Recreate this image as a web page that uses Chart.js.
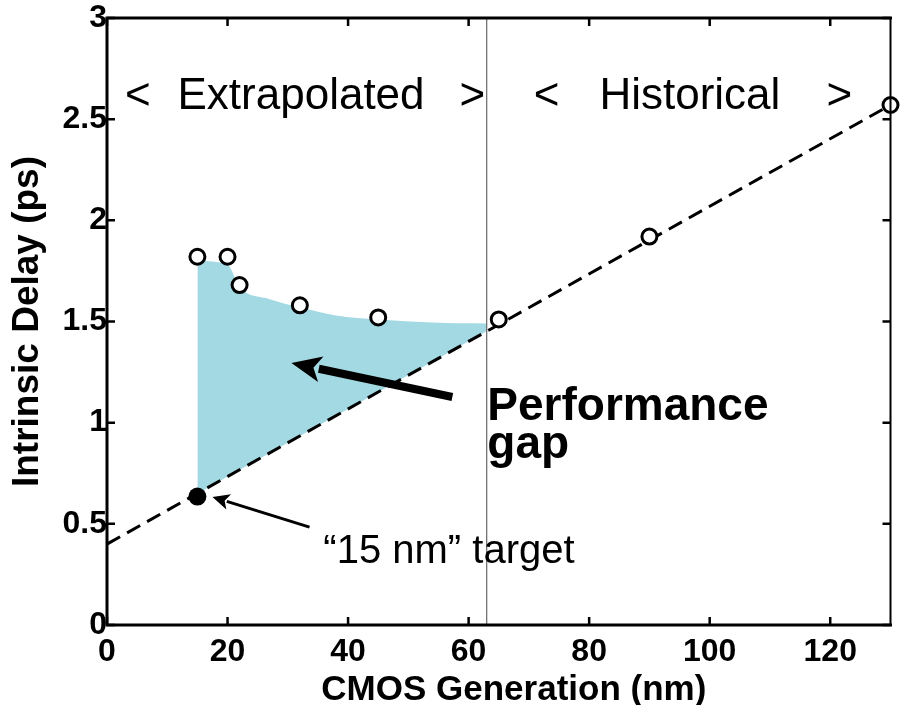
<!DOCTYPE html>
<html>
<head>
<meta charset="utf-8">
<script src="https://cdn.jsdelivr.net/npm/chart.js@4.4.1/dist/chart.umd.min.js"></script>
<style>
  html, body { margin: 0; padding: 0; background: #fff; }
  #wrap { width: 901px; height: 705px; }
</style>
</head>
<body>
<div id="wrap"><canvas id="c" width="901" height="705"></canvas></div>
<script>
// Axis ticks
const xTickValues = [0, 20, 40, 60, 80, 100, 120];
const yTickValues = [0, 0.5, 1, 1.5, 2, 2.5, 3];

// Historical trend line, extended down to small nodes
const trendX = [0, 130];
const trendY = [0.40, 2.57];

// Intrinsic delay per CMOS generation (open circles)
const nodeX = [15, 20, 22, 32, 45, 65, 90, 130];
const nodeY = [1.82, 1.82, 1.68, 1.58, 1.52, 1.51, 1.92, 2.57];

// Upper edge of the shaded performance gap
const gapX = [15, 20, 22, 27, 32, 38, 45, 54, 63];
const gapY = [1.80, 1.78, 1.67, 1.61, 1.57, 1.53, 1.51, 1.495, 1.49];

// "15 nm" target point
const targetX = [15];
const targetY = [0.635];

// Boundary between extrapolated and historical regions
const boundaryX = 63;

const FONT = "'Liberation Sans', Arial, sans-serif";

function pts(xs, ys) { return xs.map((v, i) => ({ x: v, y: ys[i] })); }

function arrow(ctx, x1, y1, x2, y2, shaft, headLen, headHalf) {
  const dx = x2 - x1, dy = y2 - y1;
  const len = Math.hypot(dx, dy);
  const ux = dx / len, uy = dy / len;
  const bx = x2 - ux * headLen, by = y2 - uy * headLen;
  ctx.save();
  ctx.strokeStyle = '#000';
  ctx.fillStyle = '#000';
  ctx.lineWidth = shaft;
  ctx.lineCap = 'butt';
  ctx.beginPath();
  ctx.moveTo(x1, y1);
  ctx.lineTo(bx + ux * 2, by + uy * 2);
  ctx.stroke();
  ctx.beginPath();
  ctx.moveTo(x2, y2);
  ctx.lineTo(bx - uy * headHalf, by + ux * headHalf);
  ctx.lineTo(bx + ux * headLen * 0.25, by + uy * headLen * 0.25);
  ctx.lineTo(bx + uy * headHalf, by - ux * headHalf);
  ctx.closePath();
  ctx.fill();
  ctx.restore();
}

const decorations = {
  id: 'decorations',
  afterDatasetsDraw(chart) {
    const { ctx, scales: { x, y } } = chart;
    const X = v => x.getPixelForValue(v), Y = v => y.getPixelForValue(v);
    ctx.save();
    ctx.fillStyle = '#000';
    ctx.textBaseline = 'middle';
    ctx.textAlign = 'left';
    ctx.font = `44px ${FONT}`;
    ctx.fillText('<', X(3.0), Y(2.61));
    ctx.fillText('Extrapolated', X(11.7), Y(2.61));
    ctx.fillText('>', X(58.5), Y(2.61));
    ctx.fillText('<', X(70.8), Y(2.61));
    ctx.fillText('Historical', X(81.7), Y(2.61));
    ctx.fillText('>', X(119.4), Y(2.61));

    ctx.textBaseline = 'alphabetic';
    ctx.font = `bold 46px ${FONT}`;
    ctx.fillText('Performance', X(63.1), Y(1.013));
    ctx.fillText('gap', X(63.1), Y(0.826));

    ctx.font = `40px ${FONT}`;
    ctx.fillText('\u201C15 nm\u201D target', X(35.9), Y(0.306));
    ctx.restore();

    arrow(ctx, X(57.3), Y(1.127), X(30.6), Y(1.295), 8, 30, 13);
    arrow(ctx, X(33.6), Y(0.484), X(17.5), Y(0.633), 3, 17, 8);
  },
  afterDraw(chart) {
    const { ctx, chartArea: a, scales: { x, y } } = chart;
    ctx.save();
    // x-axis title, centred a little right of the plot middle
    ctx.fillStyle = '#000';
    ctx.font = `bold 35px ${FONT}`;
    ctx.textAlign = 'center';
    ctx.textBaseline = 'middle';
    ctx.fillText('CMOS Generation (nm)', x.getPixelForValue(67.5), 690);

    ctx.strokeStyle = '#000';
    ctx.lineCap = 'square';
    // frame
    ctx.lineWidth = 3;
    ctx.beginPath();
    ctx.moveTo(a.left, a.top); ctx.lineTo(a.left, a.bottom); ctx.lineTo(a.right, a.bottom);
    ctx.moveTo(a.left, a.top); ctx.lineTo(a.right, a.top);
    ctx.stroke();
    ctx.lineWidth = 2;
    ctx.beginPath();
    ctx.moveTo(a.right, a.top); ctx.lineTo(a.right, a.bottom);
    ctx.stroke();
    // inward tick marks on all four sides
    const tl = 8;
    ctx.lineWidth = 2.5;
    ctx.lineCap = 'butt';
    ctx.beginPath();
    x.ticks.forEach(t => {
      const px = x.getPixelForValue(t.value);
      ctx.moveTo(px, a.bottom); ctx.lineTo(px, a.bottom - tl);
      ctx.moveTo(px, a.top); ctx.lineTo(px, a.top + tl);
    });
    y.ticks.forEach(t => {
      const py = y.getPixelForValue(t.value);
      ctx.moveTo(a.left, py); ctx.lineTo(a.left + tl, py);
      ctx.moveTo(a.right, py); ctx.lineTo(a.right - tl, py);
    });
    ctx.stroke();
    ctx.restore();
  }
};

new Chart(document.getElementById('c'), {
  type: 'scatter',
  data: {
    datasets: [
      {
        label: 'gap',
        data: pts(gapX, gapY),
        showLine: true,
        borderWidth: 0,
        borderColor: 'rgba(0,0,0,0)',
        pointRadius: 0,
        cubicInterpolationMode: 'monotone',
        backgroundColor: 'rgb(163,217,227)',
        fill: 1,
        order: 5
      },
      {
        label: 'trend',
        data: pts(trendX, trendY),
        showLine: true,
        borderColor: '#000',
        borderWidth: 3,
        borderDash: [15, 8],
        pointRadius: 0,
        fill: false,
        order: 4
      },
      {
        label: 'boundary',
        data: [{ x: boundaryX, y: 0 }, { x: boundaryX, y: 3 }],
        showLine: true,
        borderColor: '#666',
        borderWidth: 1.2,
        pointRadius: 0,
        fill: false,
        order: 3
      },
      {
        label: 'nodes',
        data: pts(nodeX, nodeY),
        showLine: false,
        pointRadius: 7.5,
        pointBorderWidth: 3,
        pointBorderColor: '#000',
        pointBackgroundColor: '#fff',
        clip: false,
        order: 2
      },
      {
        label: 'target',
        data: pts(targetX, targetY),
        showLine: false,
        pointRadius: 9,
        pointBorderWidth: 0,
        pointBackgroundColor: '#000',
        order: 1
      }
    ]
  },
  options: {
    responsive: false,
    animation: false,
    devicePixelRatio: 1,
    layout: { padding: { top: 18, right: 5, left: 0, bottom: 0 } },
    plugins: {
      legend: { display: false },
      tooltip: { enabled: false },
      filler: { drawTime: 'beforeDatasetsDraw' }
    },
    scales: {
      x: {
        type: 'linear',
        min: 0, max: 130,
        afterBuildTicks: s => { s.ticks = xTickValues.map(v => ({ value: v })); },
        afterFit: s => { s.height = 80; s.paddingRight = 0; s.paddingLeft = 0; },
        grid: { display: false, drawTicks: false },
        border: { display: false },
        ticks: {
          color: '#000',
          padding: 11,
          font: { family: FONT, size: 32, weight: 'bold', lineHeight: 1 }
        },
        title: { display: false, text: 'CMOS Generation (nm)' }
      },
      y: {
        type: 'linear',
        min: 0, max: 3,
        afterBuildTicks: s => { s.ticks = yTickValues.map(v => ({ value: v })); },
        afterFit: s => { s.width = 107; s.paddingTop = 0; s.paddingBottom = 0; },
        grid: { display: false, drawTicks: false },
        border: { display: false },
        ticks: {
          color: '#000',
          padding: 0,
          font: { family: FONT, size: 32, weight: 'bold', lineHeight: 1 },
          callback: v => String(v)
        },
        title: {
          display: true,
          text: 'Intrinsic Delay (ps)',
          color: '#000',
          padding: { top: 9, bottom: 0 },
          font: { family: FONT, size: 37, weight: 'bold', lineHeight: 1 }
        }
      }
    }
  },
  plugins: [decorations]
});
</script>
</body>
</html>
